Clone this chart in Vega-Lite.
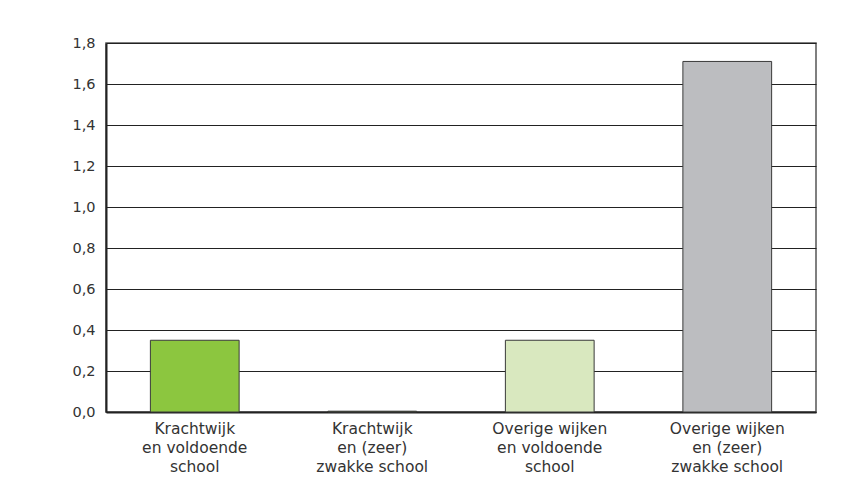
{
  "$schema": "https://vega.github.io/schema/vega-lite/v6.json",
  "width": 710,
  "height": 369,
  "autosize": "none",
  "padding": {"left": 106, "top": 43, "right": 51, "bottom": 85},
  "background": "white",
  "config": {
    "view": {"stroke": "#555555", "strokeWidth": 1.5},
    "font": "DejaVu Sans"
  },
  "data": {
    "values": [
      {"groep": "Krachtwijk|en voldoende|school", "waarde": 0.35, "kleur": "#8cc63f"},
      {"groep": "Krachtwijk|en (zeer)|zwakke school", "waarde": 0.004, "kleur": "#5b6e30"},
      {"groep": "Overige wijken|en voldoende|school", "waarde": 0.35, "kleur": "#d9e8bf"},
      {"groep": "Overige wijken|en (zeer)|zwakke school", "waarde": 1.71, "kleur": "#bcbdc0"}
    ]
  },
  "mark": {"type": "bar", "stroke": "#3a3a3a", "strokeWidth": 1},
  "encoding": {
    "x": {
      "field": "groep",
      "type": "nominal",
      "sort": null,
      "scale": {"paddingInner": 0.5, "paddingOuter": 0.25},
      "axis": {
        "title": null,
        "labelAngle": 0,
        "ticks": false,
        "domainColor": "#222222",
        "domainWidth": 2,
        "labelExpr": "split(datum.label, '|')",
        "labelFont": "DejaVu Sans",
        "labelFontSize": 15.5,
        "labelColor": "#333333",
        "labelLineHeight": 19,
        "labelPadding": 9,
        "labelLimit": 200
      }
    },
    "y": {
      "field": "waarde",
      "type": "quantitative",
      "scale": {"domain": [0, 1.8], "nice": false},
      "axis": {
        "title": null,
        "values": [0, 0.2, 0.4, 0.6, 0.8, 1.0, 1.2, 1.4, 1.6, 1.8],
        "labelExpr": "replace(format(datum.value, '.1f'), '.', ',')",
        "ticks": false,
        "grid": true,
        "gridColor": "#222222",
        "gridWidth": 1.2,
        "gridOpacity": 1,
        "domainColor": "#222222",
        "domainWidth": 2,
        "labelFont": "DejaVu Sans",
        "labelFontSize": 14.5,
        "labelColor": "#333333",
        "labelPadding": 11
      }
    },
    "fill": {"field": "kleur", "type": "nominal", "scale": null, "legend": null}
  }
}
